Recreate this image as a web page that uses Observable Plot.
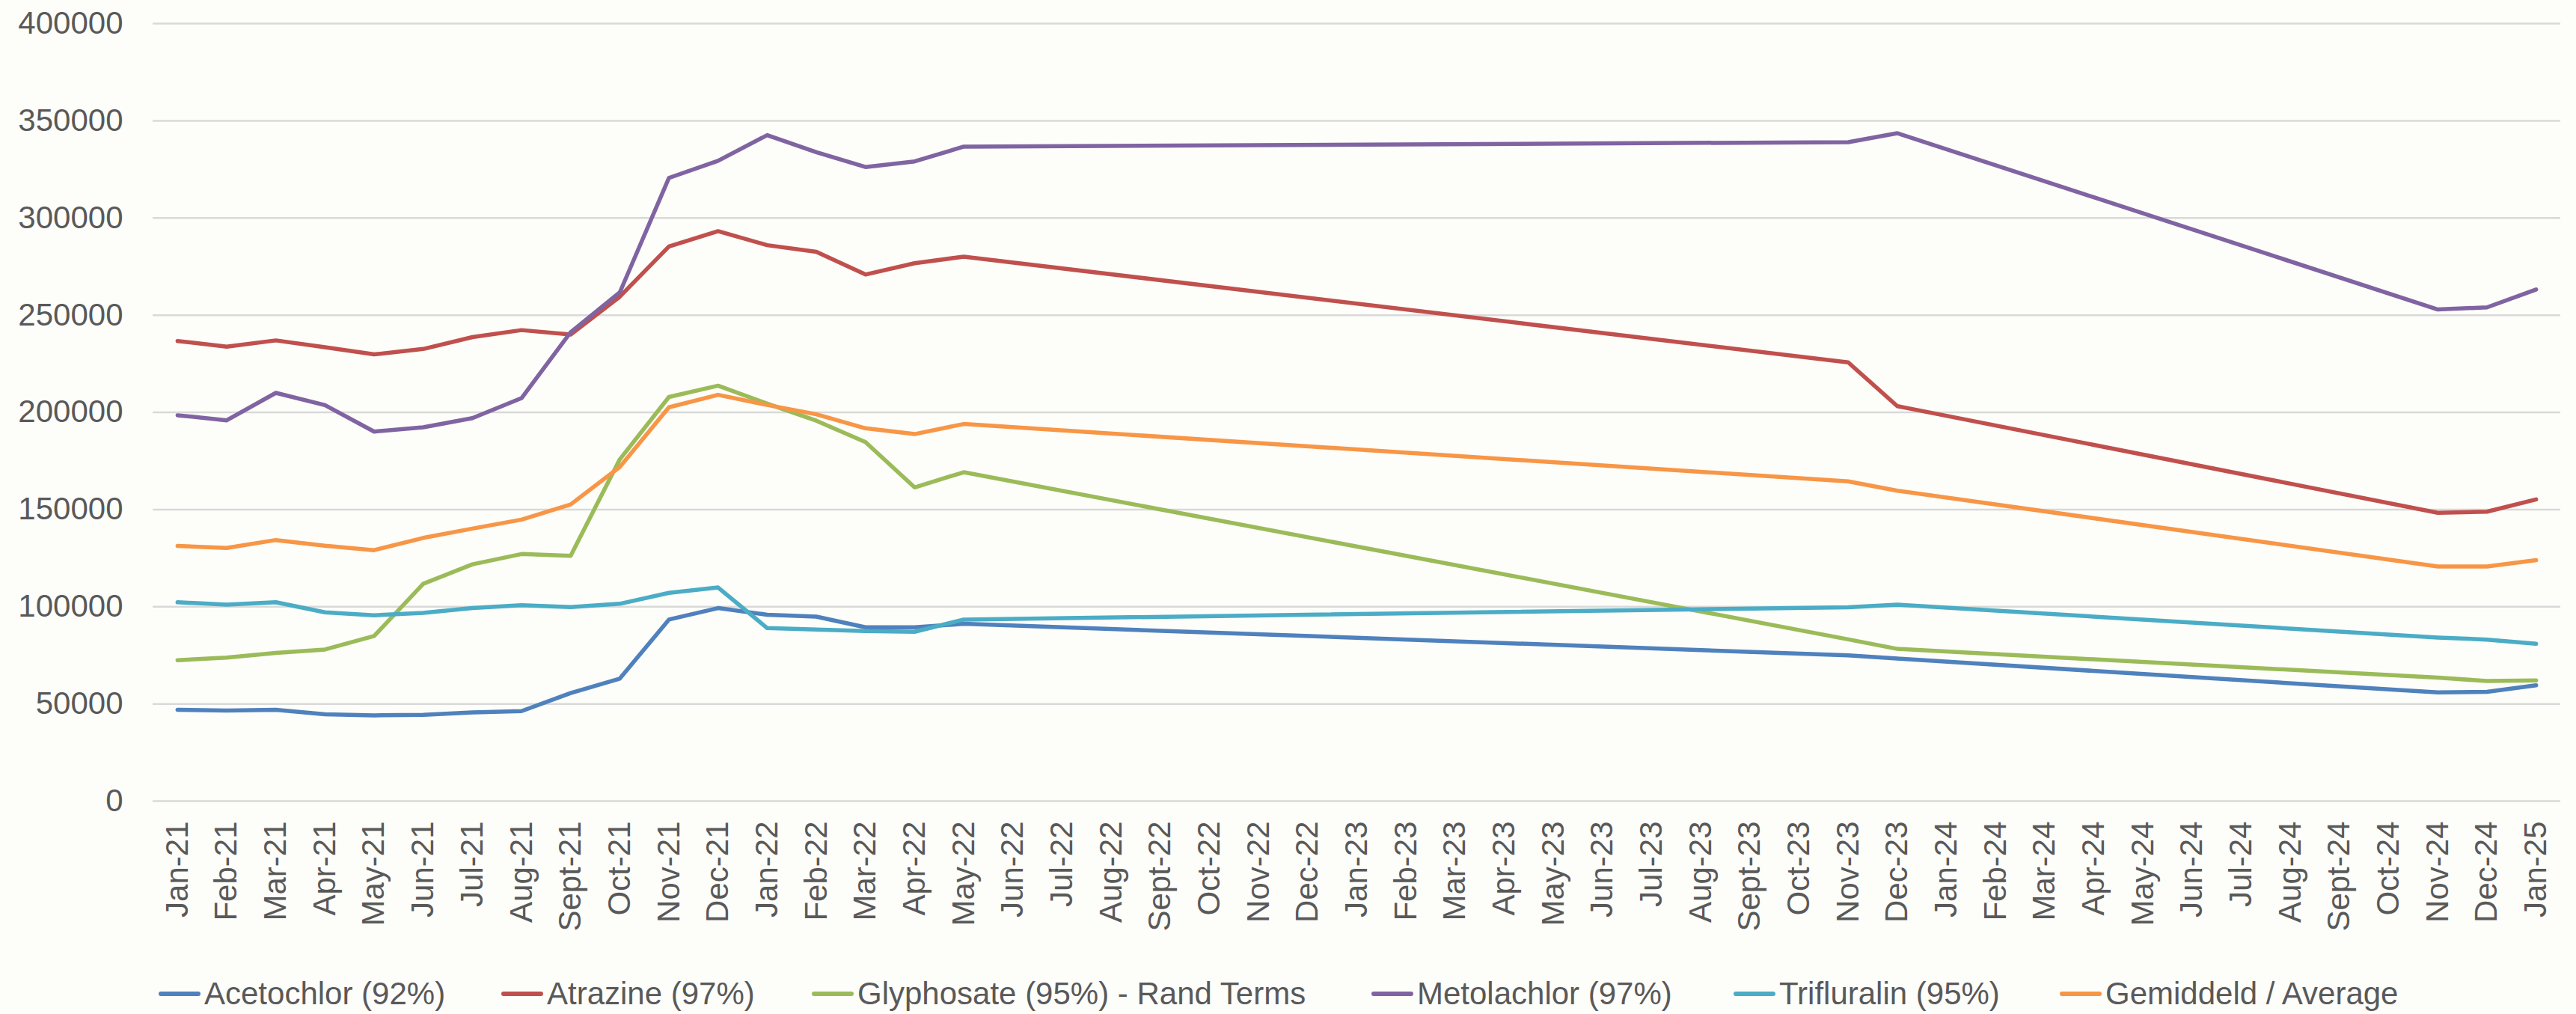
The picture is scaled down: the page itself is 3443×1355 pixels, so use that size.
<!DOCTYPE html>
<html><head><meta charset="utf-8">
<script src="https://cdn.jsdelivr.net/npm/d3@7"></script>
<script src="https://cdn.jsdelivr.net/npm/@observablehq/plot@0.6"></script>
<style>
html,body{margin:0;padding:0;background:#fdfdfa;}
body{width:3443px;height:1355px;overflow:hidden;font-family:"Liberation Sans",Arial,sans-serif;}
#legend{position:relative;height:50px;margin-top:13px;font-size:42px;color:#595959;white-space:nowrap;}
.item{position:absolute;top:0;height:50px;display:flex;align-items:center;}
.sw{width:56px;height:6px;margin-right:5px;border-radius:3px;}
</style></head><body><div id="chart"></div><div id="legend"></div>
<script>
const months = ["Jan-21","Feb-21","Mar-21","Apr-21","May-21","Jun-21","Jul-21","Aug-21","Sept-21","Oct-21","Nov-21","Dec-21",
"Jan-22","Feb-22","Mar-22","Apr-22","May-22","Jun-22","Jul-22","Aug-22","Sept-22","Oct-22","Nov-22","Dec-22",
"Jan-23","Feb-23","Mar-23","Apr-23","May-23","Jun-23","Jul-23","Aug-23","Sept-23","Oct-23","Nov-23","Dec-23",
"Jan-24","Feb-24","Mar-24","Apr-24","May-24","Jun-24","Jul-24","Aug-24","Sept-24","Oct-24","Nov-24","Dec-24","Jan-25"];

const sampleMonths = ["Jan-21","Feb-21","Mar-21","Apr-21","May-21","Jun-21","Jul-21","Aug-21","Sept-21","Oct-21","Nov-21","Dec-21",
"Jan-22","Feb-22","Mar-22","Apr-22","May-22","Nov-23","Dec-23","Nov-24","Dec-24","Jan-25"];

const acetochlor  = [47000,46600,47000,44700,44100,44400,45600,46300,55600,63000,93400,99300,95900,94900,89400,89400,91200,75000,73300,55900,56200,59600];
const atrazine    = [236700,233800,237000,233500,229800,232600,238700,242300,240000,259500,285300,293200,286000,282600,270900,276700,280100,225700,203200,148300,148900,155200];
const glyphosate  = [72500,73800,76200,78000,84900,111800,121800,127100,126200,175800,207900,213700,204500,195700,184700,161400,169200,83200,78300,63500,61800,62100];
const metolachlor = [198500,195900,210000,203700,190100,192300,197000,207300,241200,261700,320600,329400,342600,333800,326200,329100,336700,339000,343600,252900,254000,263200];
const trifluralin = [102300,101100,102300,97100,95600,96800,99300,100800,99800,101500,107100,109900,89000,88300,87500,87100,93400,99700,101100,84100,83100,80900];
const average     = [131300,130200,134300,131400,129100,135400,140200,144800,152600,171900,202600,209000,203800,199000,191800,188800,194000,164500,159700,120700,120700,124000];

const seriesNames = ["Acetochlor (92%)","Atrazine (97%)","Glyphosate (95%) - Rand Terms","Metolachlor (97%)","Trifluralin (95%)","Gemiddeld / Average"];
const seriesValues = [acetochlor, atrazine, glyphosate, metolachlor, trifluralin, average];
const seriesColors = ["#4F81BD","#C0504D","#9BBB59","#8064A2","#4BACC6","#F79646"];
const yTicks = [0,50000,100000,150000,200000,250000,300000,350000,400000];

const lines = seriesValues.map((vals, s) =>
  Plot.line(sampleMonths.map((m, i) => ({month: m, value: vals[i]})), {
    x: "month", y: "value", stroke: seriesColors[s], strokeWidth: 5.5,
    strokeLinejoin: "round", strokeLinecap: "round"
  })
);

const chart = Plot.plot({
  width: 3443,
  height: 1290,
  marginLeft: 204,
  marginRight: 21,
  marginTop: 31,
  marginBottom: 220,
  style: {background: "#fdfdfa", color: "#595959", fontFamily: "'Liberation Sans', Arial, sans-serif", overflow: "visible"},
  x: {type: "point", domain: months, padding: 0.5},
  y: {domain: [0, 400000]},
  marks: [
    Plot.ruleY(yTicks, {stroke: "#d9d9d9", strokeWidth: 2.5}),
    Plot.axisY({ticks: yTicks, tickSize: 0, tickPadding: 40, tickFormat: d3.format("d"), fontSize: 42, label: null}),
    Plot.axisX({tickSize: 0, tickRotate: -90, tickPadding: 27, fontSize: 42, label: null}),
    ...lines
  ]
});
document.getElementById("chart").appendChild(chart);

const legendLeft = [212, 670, 1085, 1833, 2317, 2753];
const legend = document.getElementById("legend");
seriesNames.forEach((name, i) => {
  const item = document.createElement("div");
  item.className = "item";
  item.style.left = legendLeft[i] + "px";
  const sw = document.createElement("div");
  sw.className = "sw";
  sw.style.background = seriesColors[i];
  const t = document.createElement("span");
  t.textContent = name;
  item.appendChild(sw); item.appendChild(t);
  legend.appendChild(item);
});
</script>
</body></html>
